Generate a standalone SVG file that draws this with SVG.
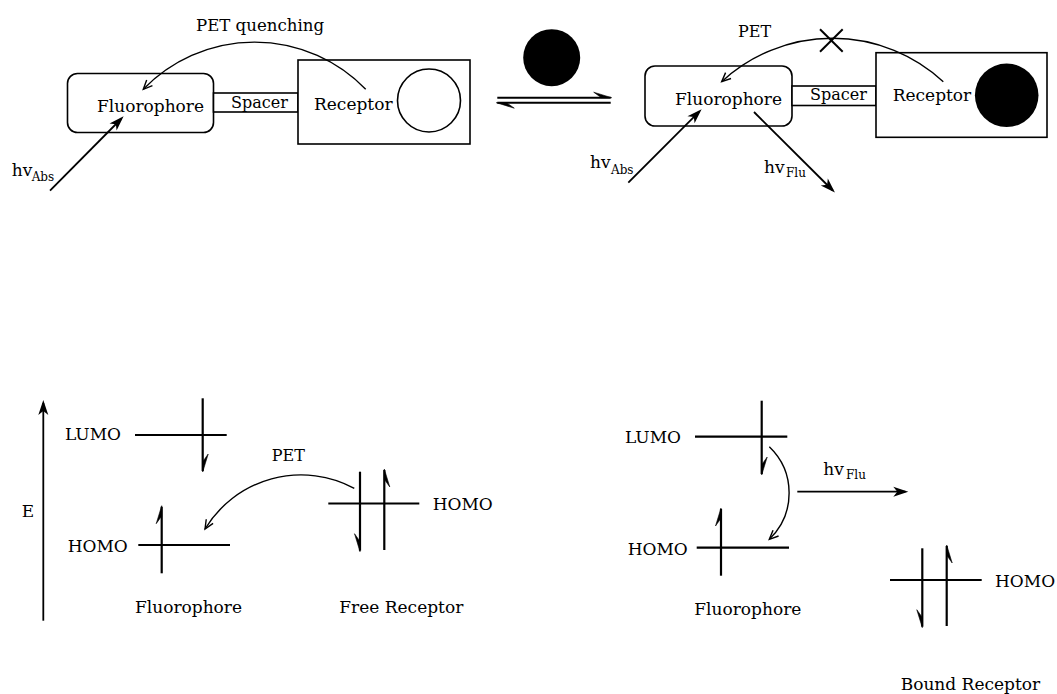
<svg xmlns="http://www.w3.org/2000/svg" xmlns:xlink="http://www.w3.org/1999/xlink" width="1057" height="694" viewBox="0 0 1057 694">
<style>
text{font-family:"DejaVu Serif","Liberation Serif",serif;font-size:17px;fill:#000}
.sm{font-size:16px}
.pq{font-size:16.6px}
.sub{font-size:12px}
.box{fill:#fff;stroke:#000;stroke-width:1.6}
.lvl{stroke:#000;stroke-width:2.2;fill:none}
.arc{stroke:#000;stroke-width:1.4;fill:none}
.ar{stroke:#000;stroke-width:1.8;fill:none}
.h{fill:#000;stroke:#000;stroke-width:0.6;stroke-linejoin:miter}
</style>
<defs>
<marker id="fa" viewBox="-14 -6 18 12" refX="0" refY="0" markerWidth="18" markerHeight="12" markerUnits="userSpaceOnUse" orient="auto">
<path d="M3,0 L-12,-5 L-8,0 L-12,5 Z" fill="#000"/>
</marker>
<marker id="oa" viewBox="-11 -6 13 12" refX="0" refY="0" markerWidth="13" markerHeight="12" markerUnits="userSpaceOnUse" orient="auto">
<path d="M-9,-4 L0,0 L-9,4" fill="none" stroke="#000" stroke-width="1.4"/>
</marker>
<path id="harp" d="M0,1 L5.5,-17 L0.5,-10 L0,-10 Z"/>
</defs>

<!-- top-left molecule -->
<g id="fluorophore-free">
<rect class="box" x="67.5" y="73.5" width="146" height="59" rx="10"/>
<text x="97" y="112">Fluorophore</text>
</g>
<g id="spacer-free">
<rect class="box" x="213.5" y="93" width="84.5" height="19"/>
<text class="sm" x="231" y="107.5">Spacer</text>
</g>
<g id="receptor-free">
<rect class="box" x="298" y="60" width="172" height="84"/>
<text x="314" y="110">Receptor</text>
<circle cx="429" cy="100.5" r="31.5" fill="#fff" stroke="#000" stroke-width="1.6"/>
</g>

<!-- ligand -->
<g id="ligand">
<circle cx="551.7" cy="57.7" r="28.5" fill="#000"/>
</g>

<!-- top-right molecule -->
<g id="fluorophore-bound">
<rect class="box" x="645" y="66" width="147" height="60" rx="10"/>
<text x="675" y="105">Fluorophore</text>
</g>
<g id="spacer-bound">
<rect class="box" x="792" y="86" width="84" height="19.5"/>
<text class="sm" x="810" y="100">Spacer</text>
</g>
<g id="receptor-bound">
<rect class="box" x="876" y="52.7" width="171" height="84.6"/>
<text x="892.7" y="101">Receptor</text>
<circle cx="1006.7" cy="95.3" r="31.8" fill="#000"/>
</g>

<!-- bottom-left energy diagram -->
<g id="fluorophore-levels-free">
<line class="lvl" x1="135" y1="435" x2="226.7" y2="435"/>
<text x="65" y="440">LUMO</text>
<line class="lvl" x1="138.3" y1="545" x2="230" y2="545"/>
<text x="67.7" y="551.7">HOMO</text>
<text x="135" y="613.3">Fluorophore</text>
</g>
<g id="free-receptor-levels">
<line class="lvl" x1="328.3" y1="503.5" x2="419.3" y2="503.5"/>
<text x="432.7" y="510">HOMO</text>
<text x="339.3" y="613.3">Free Receptor</text>
</g>

<!-- bottom-right energy diagram -->
<g id="fluorophore-levels-bound">
<line class="lvl" x1="695" y1="436.7" x2="787.3" y2="436.7"/>
<text x="625" y="442.7">LUMO</text>
<line class="lvl" x1="696.7" y1="547.7" x2="789" y2="547.7"/>
<text x="627.7" y="555">HOMO</text>
<text x="694.3" y="615">Fluorophore</text>
</g>
<g id="bound-receptor-levels">
<line class="lvl" x1="890" y1="580" x2="981.7" y2="580"/>
<text x="995" y="586.7">HOMO</text>
<text x="900.7" y="690">Bound Receptor</text>
</g>

<g id="connectors">
<!-- top-left -->
<path class="arc" d="M365.7,89.3 A154.6,154.6 0 0 0 143.3,89.3" marker-end="url(#oa)"/>
<text class="pq" x="196" y="31">PET quenching</text>
<line class="ar" x1="50" y1="190.7" x2="121.5" y2="118.5" marker-end="url(#fa)"/>
<text x="11.7" y="175.7">hv</text><text class="sub" x="31.7" y="181">Abs</text>

<!-- equilibrium -->
<line x1="497.3" y1="97.7" x2="610.7" y2="97.7" stroke="#000" stroke-width="1.9"/>
<line x1="497.3" y1="102.7" x2="610.7" y2="102.7" stroke="#000" stroke-width="1.9"/>
<use xlink:href="#harp" class="h" transform="translate(610.7,97.7) rotate(-90)"/>
<use xlink:href="#harp" class="h" transform="translate(497.3,102.7) rotate(90)"/>

<!-- top-right -->
<path class="arc" d="M943.3,81.7 A163,163 0 0 0 721.7,81.7" marker-end="url(#oa)"/>
<text class="sm" x="738" y="36.7">PET</text>
<line x1="820" y1="29.3" x2="842.7" y2="51.7" stroke="#000" stroke-width="2"/>
<line x1="842.7" y1="29.3" x2="820" y2="51.7" stroke="#000" stroke-width="2"/>
<line class="ar" x1="628.3" y1="182.7" x2="699.5" y2="111.3" marker-end="url(#fa)"/>
<text x="590" y="167.7">hv</text><text class="sub" x="611" y="174">Abs</text>
<line class="ar" x1="754" y1="112" x2="832.8" y2="190.5" marker-end="url(#fa)"/>
<text x="764" y="173.3">hv</text><text class="sub" x="786" y="177">Flu</text>

<!-- bottom-left -->
<line class="ar" x1="43.3" y1="620.7" x2="43.3" y2="403" marker-end="url(#fa)"/>
<text x="21.7" y="516.7">E</text>
<line class="lvl" x1="202.7" y1="398.3" x2="202.7" y2="471"/>
<use xlink:href="#harp" class="h" transform="translate(202.7,471)"/>
<line class="lvl" x1="161.7" y1="573.3" x2="161.7" y2="506.7"/>
<use xlink:href="#harp" class="h" transform="translate(161.7,506.7) rotate(180)"/>
<line class="lvl" x1="360" y1="471.7" x2="360" y2="550.7"/>
<use xlink:href="#harp" class="h" transform="translate(360,550.7) scale(-1,1)"/>
<line class="lvl" x1="384.3" y1="550" x2="384.3" y2="470"/>
<use xlink:href="#harp" class="h" transform="translate(384.3,470) scale(1,-1)"/>
<path class="arc" d="M354.3,488.3 A112.4,112.4 0 0 0 205,529" marker-end="url(#oa)"/>
<text class="sm" x="271.7" y="461">PET</text>

<!-- bottom-right -->
<line class="lvl" x1="761.7" y1="400.7" x2="761.7" y2="474"/>
<use xlink:href="#harp" class="h" transform="translate(761.7,474)"/>
<line class="lvl" x1="721" y1="575.7" x2="721" y2="509"/>
<use xlink:href="#harp" class="h" transform="translate(721,509) rotate(180)"/>
<path class="arc" d="M769.3,446.7 A64,64 0 0 1 769.3,539.3" marker-end="url(#oa)"/>
<line class="ar" x1="797.3" y1="491.7" x2="905.3" y2="491.7" marker-end="url(#fa)"/>
<text x="823.3" y="475">hv</text><text class="sub" x="846" y="479.3">Flu</text>
<line class="lvl" x1="922.3" y1="548.3" x2="922.3" y2="626.7"/>
<use xlink:href="#harp" class="h" transform="translate(922.3,626.7) scale(-1,1)"/>
<line class="lvl" x1="946.7" y1="626" x2="946.7" y2="546"/>
<use xlink:href="#harp" class="h" transform="translate(946.7,546) scale(1,-1)"/>
</g>
</svg>
